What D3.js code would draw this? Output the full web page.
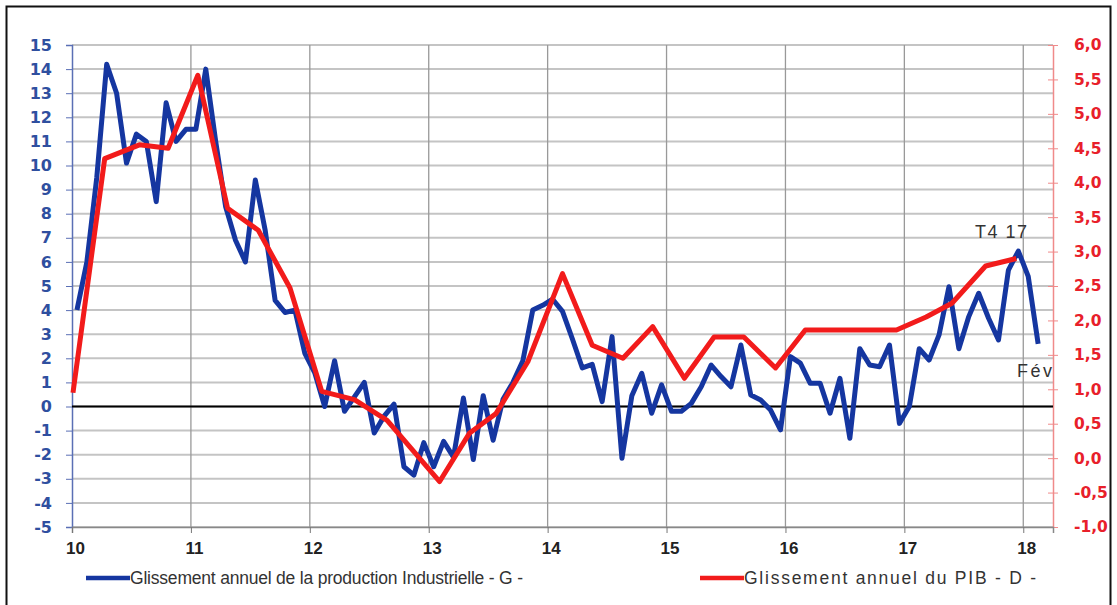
<!DOCTYPE html>
<html><head><meta charset="utf-8">
<script src="https://cdn.jsdelivr.net/npm/d3@7"></script>
<style>
html,body{margin:0;padding:0;background:#fff;}
svg{display:block;}
</style></head>
<body>
<svg id="chart" width="1117" height="605"></svg>
<script>
// ---- DATA ----
const yearLabels = ["10","11","12","13","14","15","16","17","18"];
const leftTicks = d3.range(-5, 16, 1);
const rightTicks = d3.range(-1, 6.01, 0.5);
// Industrial production, y/y %, monthly from Jan 2010 to Feb 2018
const prodValues = [
 4.0, 6.0, 9.5, 14.2, 13.0, 10.1, 11.3, 11.0, 8.5, 12.6, 11.0, 11.5,
 11.5, 14.0, 11.0, 8.3, 6.9, 6.0, 9.4, 7.3, 4.4, 3.9, 4.0, 2.2,
 1.4, 0.0, 1.9, -0.2, 0.4, 1.0, -1.1, -0.4, 0.1, -2.5, -2.85, -1.5,
 -2.5, -1.45, -2.1, 0.35, -2.2, 0.45, -1.4, 0.3, 1.0, 1.9, 4.0, 4.2,
 4.45, 3.95, 2.8, 1.6, 1.75, 0.2, 2.9, -2.15, 0.45, 1.38, -0.28, 0.9,
 -0.2, -0.2, 0.13, 0.82, 1.72, 1.24, 0.82, 2.55, 0.48, 0.27, -0.15, -0.97,
 2.07, 1.8, 0.96, 0.96, -0.28, 1.17, -1.32, 2.4, 1.72, 1.65, 2.55, -0.7,
 0.0, 2.4, 1.93, 2.97, 4.97, 2.4, 3.73, 4.7, 3.66, 2.76, 5.66, 6.45,
 5.4, 2.6
];
// GDP y/y %, quarterly; position in months since Jan 2010
const gdpMonths = [-0.4, 2.8, 6.3, 9.2, 12.2, 15.2, 18.3, 21.5, 24.7, 28.0, 31.3, 36.6,
 39.6, 42.3, 45.5, 49.0, 52.0, 55.1, 58.1, 61.3, 64.3, 67.3, 70.5, 73.5,
 76.6, 79.6, 82.7, 85.7, 88.3, 91.7, 94.8];
const gdpValues = [0.95, 4.35, 4.55, 4.5, 5.56, 3.63, 3.31, 2.47, 0.97, 0.85, 0.55, -0.34,
 0.36, 0.65, 1.4, 2.68, 1.64, 1.45, 1.91, 1.16, 1.76, 1.76, 1.31, 1.86,
 1.86, 1.86, 1.86, 2.05, 2.25, 2.79, 2.9];
const legendLabels = ["Glissement annuel de la production Industrielle - G -", "Glissement annuel du PIB - D -"];

// ---- LAYOUT ----
const svg = d3.select("#chart");
const X0 = 72, X1 = 1053, Y0 = 45, Y1 = 527;
const x = d3.scaleLinear().domain([0, 99]).range([X0, X1]);
const yL = d3.scaleLinear().domain([-5, 15]).range([Y1, Y0]);
const yR = d3.scaleLinear().domain([-1, 6]).range([Y1, Y0]);
const BLUE = "#1536a0", RED = "#f21b1b";
const font = "'Liberation Sans', Arial, sans-serif";
const wide = "'DejaVu Sans', Verdana, sans-serif";
const narrow = "'Liberation Sans Narrow', 'Liberation Sans', Arial, sans-serif";

// frame
svg.append("rect").attr("x", 6.5).attr("y", 6.5).attr("width", 1104).attr("height", 620)
  .attr("fill", "none").attr("stroke", "#111").attr("stroke-width", 2);

// horizontal gridlines
svg.append("g").selectAll("line").data(leftTicks).join("line")
  .attr("x1", X0).attr("x2", X1)
  .attr("y1", d => yL(d)).attr("y2", d => yL(d))
  .attr("stroke", "#c4c4c4").attr("stroke-width", 2);

// vertical gridlines
const yearPos = yearLabels.map((_, i) => i * 12);
svg.append("g").selectAll("line").data(yearPos.slice(1)).join("line")
  .attr("x1", d => x(d)).attr("x2", d => x(d))
  .attr("y1", Y0).attr("y2", Y1)
  .attr("stroke", "#999").attr("stroke-width", 1.3);

// left axis
const gL = svg.append("g").attr("transform", `translate(${X0},0)`)
  .call(d3.axisLeft(yL).tickValues(leftTicks).tickSize(6).tickPadding(14).tickFormat(d => String(d)));
gL.select(".domain").attr("stroke", "#5a6fb5").attr("stroke-width", 1.5);
gL.selectAll(".tick line").attr("stroke", "#5a6fb5");
gL.selectAll(".tick text").attr("fill", "#2f4f9f").attr("font-family", wide)
  .attr("font-size", 16).attr("font-weight", "bold");

// right axis
const gR = svg.append("g").attr("transform", `translate(${X1},0)`)
  .call(d3.axisRight(yR).tickValues(rightTicks).tickSizeInner(5).tickSizeOuter(0).tickPadding(16)
    .tickFormat(d => d.toFixed(1).replace(".", ",")));
gR.select(".domain").attr("stroke", "#f08a8a").attr("stroke-width", 1.5);
gR.selectAll(".tick line").attr("stroke", "#f08a8a").attr("x1", -5).attr("x2", 5);
gR.selectAll(".tick text").attr("fill", "#e8202a").attr("font-family", wide)
  .attr("font-size", 15.5).attr("font-weight", "bold");

// bottom axis
const gB = svg.append("g").attr("transform", `translate(0,${Y1})`)
  .call(d3.axisBottom(x).tickValues(yearPos).tickSize(6).tickPadding(9)
    .tickFormat((d, i) => yearLabels[i]));
gB.select(".domain").attr("stroke", "#888").attr("stroke-width", 1.5);
gB.selectAll(".tick line").attr("stroke", "#777");
gB.selectAll(".tick text").attr("fill", "#222").attr("font-family", narrow)
  .attr("font-size", 17).attr("font-weight", "bold").attr("dx", 3);

// zero line
svg.append("line").attr("x1", X0).attr("x2", X1)
  .attr("y1", yL(0)).attr("y2", yL(0))
  .attr("stroke", "#000").attr("stroke-width", 2.2);

// series
const lineB = d3.line().x((d, i) => x(i + 0.5)).y(d => yL(d));
svg.append("path").datum(prodValues).attr("d", lineB)
  .attr("fill", "none").attr("stroke", BLUE).attr("stroke-width", 5)
  .attr("stroke-linejoin", "round");

const gdp = gdpMonths.map((m, i) => [m, gdpValues[i]]);
const lineR = d3.line().x(d => x(d[0] + 0.5)).y(d => yR(d[1]));
svg.append("path").datum(gdp).attr("d", lineR)
  .attr("fill", "none").attr("stroke", RED).attr("stroke-width", 5)
  .attr("stroke-linejoin", "round");

// annotations
svg.append("text").attr("x", 975).attr("y", 238)
  .attr("font-family", font).attr("font-size", 18).attr("fill", "#333")
  .attr("textLength", 52).text("T4 17");
svg.append("text").attr("x", 1017).attr("y", 377)
  .attr("font-family", font).attr("font-size", 18).attr("fill", "#333")
  .attr("textLength", 35).text("Fév");

// legend
const lg = svg.append("g").attr("transform", "translate(0,578)");
const legendItems = [
  {x: 86, end: 523, color: BLUE, label: legendLabels[0]},
  {x: 700, end: 1036, color: RED, label: legendLabels[1]}
];
legendItems.forEach(it => {
  lg.append("line").attr("x1", it.x).attr("x2", it.x + 44).attr("y1", 0).attr("y2", 0)
    .attr("stroke", it.color).attr("stroke-width", 4.5);
  lg.append("text").attr("x", it.x + 44).attr("y", 6).attr("font-family", narrow)
    .attr("font-size", 17.5).attr("fill", "#333")
    .attr("textLength", it.end - it.x - 44).attr("lengthAdjust", "spacing").text(it.label);
});
</script>
</body></html>
